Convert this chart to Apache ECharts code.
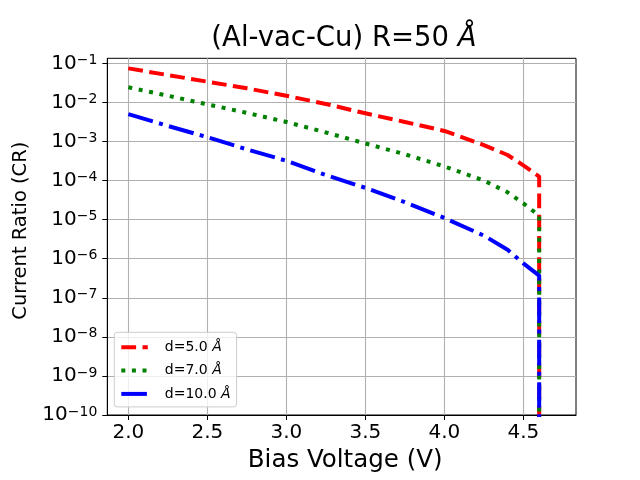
<!DOCTYPE html>
<html>
<head>
<meta charset="utf-8">
<script src="https://cdn.jsdelivr.net/npm/echarts@6/dist/echarts.min.js"></script>
<style>
html,body{margin:0;padding:0;background:#fff;}
#main{width:640px;height:480px;}
</style>
</head>
<body>
<div id="main"></div>
<script>
// bias voltage (V), last point is the cut-off drop
var bias = [2.0, 2.25, 2.5, 2.75, 3.0, 3.25, 3.5, 3.75, 4.0, 4.25, 4.4, 4.5, 4.6, 4.6];
// current ratio for each barrier width
var crD5  = [0.0741, 0.0501, 0.0339, 0.0229, 0.0148, 0.00912, 0.00525, 0.00316, 0.00186, 8.1e-4, 4.5e-4, 2.45e-4, 1.26e-4, 1e-12];
var crD7  = [0.0243, 0.0148, 0.0089, 0.0054, 0.00316, 0.0017, 8.9e-4, 4.7e-4, 2.3e-4, 1.0e-4, 5.0e-5, 2.6e-5, 1.26e-5, 1e-12];
var crD10 = [5.0e-3, 2.5e-3, 1.29e-3, 6.3e-4, 3.2e-4, 1.38e-4, 6.5e-5, 2.8e-5, 1.1e-5, 3.9e-6, 1.7e-6, 7.6e-7, 3.7e-7, 1e-12];
var seriesNames = ['d=5.0 Å', 'd=7.0 Å', 'd=10.0 Å'];
// tick labels
var xTicks = [2.0, 2.5, 3.0, 3.5, 4.0, 4.5];
var yTicks = [1e-10, 1e-9, 1e-8, 1e-7, 1e-6, 1e-5, 1e-4, 1e-3, 1e-2, 1e-1];

var FONT = 'DejaVu Sans';

function pairs(ys) {
    var out = [];
    for (var i = 0; i < bias.length; i++) out.push([bias[i], ys[i]]);
    return out;
}

var myChart = echarts.init(document.getElementById('main'), null, {renderer: 'canvas'});
var option = {
    animation: false,
    backgroundColor: '#fff',
    textStyle: {fontFamily: FONT, color: '#000'},
    title: {
        text: '(Al-vac-Cu) R=50 {i|Å}',
        left: 344,
        top: 25,
        padding: 0,
        textAlign: 'center',
        textStyle: {
            fontFamily: FONT, fontSize: 27.5, fontWeight: 'normal', color: '#000',
            rich: {i: {fontFamily: FONT, fontSize: 27.5, fontStyle: 'italic', color: '#000'}}
        }
    },
    grid: {
        left: 107.3, right: 64, top: 58.3, bottom: 65,
        show: true, borderColor: '#000', borderWidth: 1,
        backgroundColor: 'transparent'
    },
    legend: {
        orient: 'vertical',
        left: 114.3, top: 332.3,
        padding: [8, 6, 6, 5],
        itemWidth: 26.5, itemHeight: 14, itemGap: 9.3,
        backgroundColor: 'rgba(255,255,255,0.8)',
        borderColor: '#cccccc', borderWidth: 1, borderRadius: 3,
        itemStyle: {opacity: 0},
        lineStyle: {width: 4},
        data: seriesNames,
        formatter: function (name) {
            return name.replace('Å', '{i|Å}');
        },
        textStyle: {
            fontFamily: FONT, fontSize: 14, color: '#000', lineHeight: 14,
            padding: [0, 0, 0, 12],
            rich: {i: {fontFamily: FONT, fontSize: 14, fontStyle: 'italic', color: '#000'}}
        }
    },
    xAxis: {
        type: 'value',
        min: 1.867, max: 4.833,
        name: 'Bias Voltage (V)',
        nameLocation: 'middle',
        nameGap: 33,
        nameTextStyle: {fontFamily: FONT, fontSize: 24.5, color: '#000', padding: [0, 0, 0, 7]},
        axisLine: {lineStyle: {color: '#000', width: 1}},
        axisTick: {show: true, inside: false, length: 5, lineStyle: {color: '#000', width: 1}, customValues: xTicks},
        axisLabel: {
            customValues: xTicks,
            margin: 8, fontFamily: FONT, fontSize: 20, color: '#000',
            formatter: function (v) { return v.toFixed(1); }
        },
        splitLine: {show: true, lineStyle: {color: '#b0b0b0', width: 1.1}}
    },
    yAxis: {
        type: 'log',
        logBase: 10,
        min: 1e-10, max: 0.1343,
        name: 'Current Ratio (CR)',
        nameLocation: 'middle',
        nameRotate: 90,
        nameGap: 76,
        nameTextStyle: {fontFamily: FONT, fontSize: 19.5, color: '#000', padding: [0, 0, 0, 12]},
        axisLine: {show: true, lineStyle: {color: '#000', width: 1}},
        axisTick: {show: true, inside: false, length: 5, lineStyle: {color: '#000', width: 1}, customValues: yTicks},
        axisLabel: {
            customValues: yTicks,
            margin: 10, fontFamily: FONT, color: '#000',
            formatter: function (v) {
                var e = Math.round(Math.log(v) / Math.LN10);
                return '{b|10}{s|\u2212' + (-e) + '}';
            },
            rich: {
                b: {fontFamily: FONT, fontSize: 20, color: '#000', verticalAlign: 'bottom'},
                s: {fontFamily: FONT, fontSize: 14, color: '#000', verticalAlign: 'top', lineHeight: 10}
            }
        },
        splitLine: {show: true, lineStyle: {color: '#b0b0b0', width: 1.1}}
    },
    series: [
        {
            name: seriesNames[0], type: 'line', showSymbol: false, symbol: 'none', clip: true,
            data: pairs(crD5),
            lineStyle: {color: '#ff0000', width: 4, type: [14.8, 6.4], cap: 'butt', join: 'round'},
            itemStyle: {color: '#ff0000'}
        },
        {
            name: seriesNames[1], type: 'line', showSymbol: false, symbol: 'none', clip: true,
            data: pairs(crD7),
            lineStyle: {color: '#008000', width: 4, type: [4, 6.6], cap: 'butt', join: 'round'},
            itemStyle: {color: '#008000'}
        },
        {
            name: seriesNames[2], type: 'line', showSymbol: false, symbol: 'none', clip: true,
            data: pairs(crD10),
            lineStyle: {color: '#0000ff', width: 4, type: [25.6, 6.4, 4, 6.4], cap: 'butt', join: 'round'},
            itemStyle: {color: '#0000ff'}
        }
    ]
};
myChart.setOption(option);
</script>
</body>
</html>
